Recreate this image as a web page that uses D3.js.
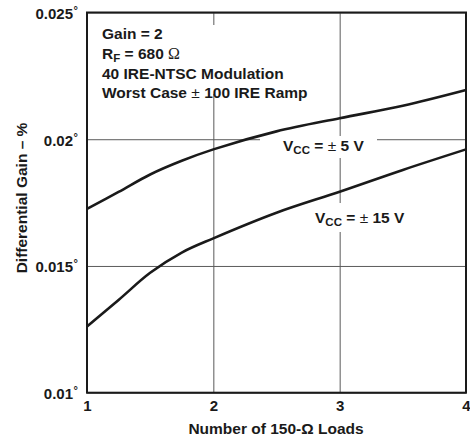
<!DOCTYPE html>
<html>
<head>
<meta charset="utf-8">
<script src="https://cdn.jsdelivr.net/npm/d3@7/dist/d3.min.js"></script>
<style>
  html, body { margin: 0; padding: 0; background: #fff; }
  svg { display: block; }
  text { font-family: "Liberation Sans", Arial, Helvetica, sans-serif; font-weight: bold; fill: #1a1a1a; }
</style>
</head>
<body>
<svg id="chart" width="470" height="440"></svg>
<script>
// Differential gain versus number of 150-ohm loads
const loads = [1, 1.25, 1.5, 1.75, 2, 2.5, 3, 3.5, 4];
const gainVcc5 = [0.01725, 0.01792, 0.01861, 0.01915, 0.0196, 0.02031, 0.02083, 0.02132, 0.02194];
const gainVcc15 = [0.01261, 0.01366, 0.01473, 0.01553, 0.01609, 0.0171, 0.01793, 0.01879, 0.0196];

const xTicks = [1, 2, 3, 4];
const xTickLabels = ["1", "2", "3", "4"];
const yTicks = [0.01, 0.015, 0.02, 0.025];
const yTickLabels = ["0.01", "0.015", "0.02", "0.025"];

const margin = { left: 87, top: 12.5, right: 4, bottom: 47.3 };
const W = 470, H = 440;
const width = W - margin.left - margin.right;
const height = H - margin.top - margin.bottom;
const FONT = "'Liberation Sans', Arial, sans-serif";

const svg = d3.select("#chart");
const g = svg.append("g").attr("transform", `translate(${margin.left},${margin.top})`);
const gridLayer = g.append("g");
const panelLayer = svg.append("g");
const plotLayer = svg.append("g").attr("transform", `translate(${margin.left},${margin.top})`);
const textLayer = svg.append("g");

const x = d3.scaleLinear().domain([1, 4]).range([0, width]);
const y = d3.scaleLinear().domain([0.01, 0.025]).range([height, 0]);

// grid lines
const gridX = gridLayer.append("g")
  .attr("transform", `translate(0,${height})`)
  .call(d3.axisBottom(x).tickValues(xTicks).tickSize(-height).tickFormat(""));
const gridY = gridLayer.append("g")
  .call(d3.axisLeft(y).tickValues(yTicks).tickSize(-width).tickFormat(""));
[gridX, gridY].forEach(a => {
  a.select(".domain").remove();
  a.selectAll("line").attr("stroke", "#5a5a5a").attr("stroke-width", 1);
});

// white panels behind the annotations (they break the grid lines)
const panels = [
  { x0: 100, y0: 25, x1: 312, y1: 94 },
  { x0: 260, y0: 136, x1: 377, y1: 158 },
  { x0: 300, y0: 203, x1: 420, y1: 232 }
];
panelLayer.selectAll("rect").data(panels).join("rect")
  .attr("x", d => d.x0).attr("y", d => d.y0)
  .attr("width", d => d.x1 - d.x0).attr("height", d => d.y1 - d.y0)
  .attr("fill", "#fff");

// curves
const line = d3.line()
  .x((d, i) => x(loads[i]))
  .y(d => y(d))
  .curve(d3.curveCatmullRom.alpha(0.5));
[gainVcc5, gainVcc15].forEach(series => {
  plotLayer.append("path")
    .datum(series)
    .attr("d", line)
    .attr("fill", "none")
    .attr("stroke", "#1a1a1a")
    .attr("stroke-width", 2.6)
    .attr("stroke-linejoin", "round");
});

// frame
plotLayer.append("rect")
  .attr("x", 0).attr("y", 0).attr("width", width).attr("height", height)
  .attr("fill", "none").attr("stroke", "#1a1a1a").attr("stroke-width", 2);

// tick labels
const xAxis = plotLayer.append("g")
  .attr("transform", `translate(0,${height})`)
  .call(d3.axisBottom(x).tickValues(xTicks).tickSize(0).tickPadding(8)
    .tickFormat((d, i) => xTickLabels[i]));
xAxis.select(".domain").remove();
xAxis.selectAll("text")
  .attr("font-size", 15).attr("fill", "#1a1a1a")
  .attr("font-family", FONT).attr("font-weight", "bold");

const yAxis = plotLayer.append("g")
  .call(d3.axisLeft(y).tickValues(yTicks).tickSize(0).tickPadding(14)
    .tickFormat((d, i) => yTickLabels[i]));
yAxis.select(".domain").remove();
yAxis.selectAll("text")
  .attr("font-size", 15).attr("fill", "#1a1a1a")
  .attr("font-family", FONT).attr("font-weight", "bold")
  .attr("dy", "0.4em");
yAxis.selectAll(".tick").append("text")
  .attr("x", -13.5).attr("y", 1)
  .attr("font-size", 11).attr("font-weight", "normal").attr("fill", "#444")
  .attr("font-family", FONT)
  .attr("text-anchor", "start")
  .text("°");

// axis titles
textLayer.append("text")
  .attr("x", 276).attr("y", 434)
  .attr("text-anchor", "middle").attr("font-size", 15.5)
  .text("Number of 150-Ω Loads");
textLayer.append("text")
  .attr("transform", "translate(27,198) rotate(-90)")
  .attr("text-anchor", "middle").attr("font-size", 15.5)
  .text("Differential Gain – %");

// condition notes
const notes = textLayer.append("g").attr("font-size", 15.5);
notes.append("text").attr("x", 102).attr("y", 39).text("Gain = 2");
const rf = notes.append("text").attr("x", 102).attr("y", 58.5);
rf.append("tspan").text("R");
rf.append("tspan").attr("font-size", 11.5).attr("dy", 3.5).text("F");
rf.append("tspan").attr("dy", -3.5).text(" = 680 ");
rf.append("tspan").attr("font-family", "'Liberation Serif', 'Times New Roman', serif")
  .attr("font-weight", "normal").attr("font-size", 16).text("Ω");
notes.append("text").attr("x", 102).attr("y", 78.5).text("40 IRE-NTSC Modulation");
const wc = notes.append("text").attr("x", 102).attr("y", 98);
wc.append("tspan").text("Worst Case ");
wc.append("tspan").attr("font-weight", "normal").text("±");
wc.append("tspan").text(" 100 IRE Ramp");

// series labels
function vccLabel(px, py, volts) {
  const t = textLayer.append("text").attr("x", px).attr("y", py).attr("font-size", 15.5);
  t.append("tspan").text("V");
  t.append("tspan").attr("font-size", 11.5).attr("dy", 3.5).text("CC");
  t.append("tspan").attr("dy", -3.5).text(" = ");
  t.append("tspan").attr("font-weight", "normal").text("±");
  t.append("tspan").text(" " + volts + " V");
}
vccLabel(283, 150.5, 5);
vccLabel(315, 222.5, 15);
</script>
</body>
</html>
